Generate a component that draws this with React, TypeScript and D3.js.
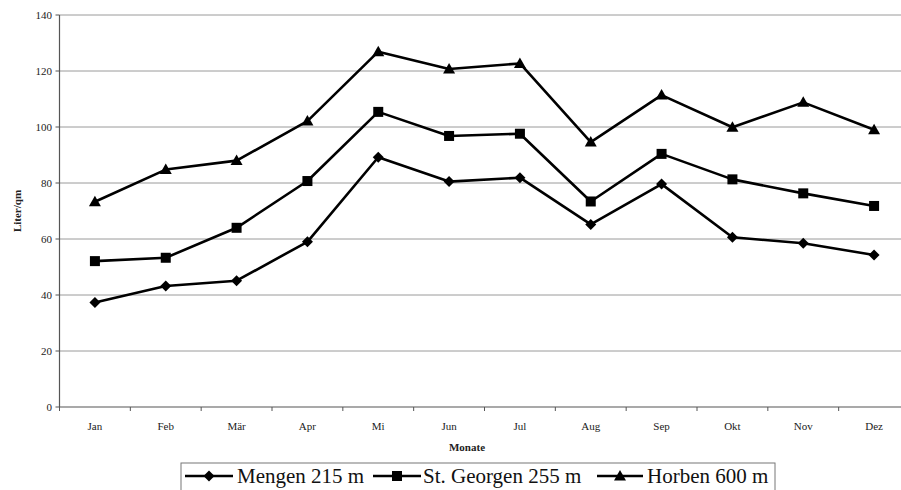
import React from "react";
import * as d3 from "d3";

const months = ["Jan", "Feb", "Mär", "Apr", "Mi", "Jun", "Jul", "Aug", "Sep", "Okt", "Nov", "Dez"];
const mengen = [37.3, 43.2, 45.1, 59.0, 89.2, 80.5, 81.9, 65.2, 79.6, 60.6, 58.5, 54.3];
const stGeorgen = [52.1, 53.3, 64.0, 80.7, 105.4, 96.8, 97.6, 73.4, 90.4, 81.3, 76.3, 71.8];
const horben = [73.3, 84.8, 88.0, 102.1, 126.9, 120.7, 122.7, 94.6, 111.4, 99.9, 108.8, 99.0];
const seriesNames = ["Mengen 215 m", "St. Georgen 255 m", "Horben 600 m"];
const yTicks = [0, 20, 40, 60, 80, 100, 120, 140];

const W = 901, H = 490;
const left = 59.5, right = 909.5, top = 15, bottom = 407;
const font = "'Liberation Serif', 'Times New Roman', serif";

function Marker({ kind, x, y }: { kind: string; x: number; y: number }) {
  if (kind === "diamond") {
    const s = 5.5;
    return <path d={`M${x},${y - s}L${x + s},${y}L${x},${y + s}L${x - s},${y}Z`} fill="#000" />;
  }
  if (kind === "square") {
    const s = 5;
    return <rect x={x - s} y={y - s} width={2 * s} height={2 * s} fill="#000" />;
  }
  const s = 6;
  return <path d={`M${x},${y - s}L${x + s},${y + s * 0.75}L${x - s},${y + s * 0.75}Z`} fill="#000" />;
}

export default function App() {
  const x = d3.scaleBand<string>().domain(months).range([left, right]);
  const y = d3.scaleLinear().domain([0, 140]).range([bottom, top]);
  const line = d3
    .line<number>()
    .x((_, i) => (x(months[i]) as number) + x.bandwidth() / 2)
    .y((d) => y(d));

  const series = [
    { name: seriesNames[0], values: mengen, kind: "diamond" },
    { name: seriesNames[1], values: stGeorgen, kind: "square" },
    { name: seriesNames[2], values: horben, kind: "triangle" },
  ];

  const legendItems = [
    { sx: 185, ex: 233, tx: 237 },
    { sx: 373, ex: 421, tx: 423 },
    { sx: 597, ex: 643, tx: 647 },
  ];
  const ly = 476;

  return (
    <svg
      width={W}
      height={H}
      style={{ position: "absolute", left: 0, top: 0, background: "#fff" }}
      fontFamily={font}
    >
      {/* gridlines */}
      {yTicks.slice(1).map((t) => (
        <line key={t} x1={left} x2={right} y1={y(t)} y2={y(t)} stroke="#9a9a9a" strokeWidth={1} />
      ))}
      {/* axes */}
      <line x1={left} x2={left} y1={top} y2={bottom} stroke="#555" strokeWidth={1.2} />
      <line x1={left} x2={right} y1={bottom} y2={bottom} stroke="#555" strokeWidth={1.2} />
      {yTicks.map((t) => (
        <g key={t}>
          <line x1={left - 4} x2={left} y1={y(t)} y2={y(t)} stroke="#555" />
          <text x={52} y={y(t) + 4} textAnchor="end" fontSize={11} fill="#222">
            {t}
          </text>
        </g>
      ))}
      {months.map((m, i) => (
        <g key={m}>
          <line
            x1={(x(m) as number) + x.bandwidth()}
            x2={(x(m) as number) + x.bandwidth()}
            y1={bottom}
            y2={bottom + 4}
            stroke="#555"
          />
          {i === 0 && <line x1={left} x2={left} y1={bottom} y2={bottom + 4} stroke="#555" />}
          <text
            x={(x(m) as number) + x.bandwidth() / 2}
            y={430}
            textAnchor="middle"
            fontSize={11}
            fill="#222"
          >
            {m}
          </text>
        </g>
      ))}
      <text x={467} y={451} textAnchor="middle" fontSize={11} fontWeight="bold" fill="#222">
        Monate
      </text>
      <text
        transform={`translate(21,211) rotate(-90)`}
        textAnchor="middle"
        fontSize={11}
        fontWeight="bold"
        fill="#222"
      >
        Liter/qm
      </text>
      {/* series */}
      {series.map((s) => (
        <g key={s.name}>
          <path d={line(s.values) || ""} fill="none" stroke="#000" strokeWidth={2.6} strokeLinejoin="round" />
          {s.values.map((v, i) => (
            <Marker key={i} kind={s.kind} x={(x(months[i]) as number) + x.bandwidth() / 2} y={y(v)} />
          ))}
        </g>
      ))}
      {/* legend */}
      <rect x={181} y={463} width={594} height={40} fill="#fff" stroke="#777" strokeWidth={1} />
      {series.map((s, i) => {
        const it = legendItems[i];
        return (
          <g key={s.name}>
            <line x1={it.sx} x2={it.ex} y1={ly} y2={ly} stroke="#000" strokeWidth={2.6} />
            <Marker kind={s.kind} x={(it.sx + it.ex) / 2} y={ly} />
            <text x={it.tx} y={ly + 7} fontSize={21} fill="#111">
              {s.name}
            </text>
          </g>
        );
      })}
    </svg>
  );
}
